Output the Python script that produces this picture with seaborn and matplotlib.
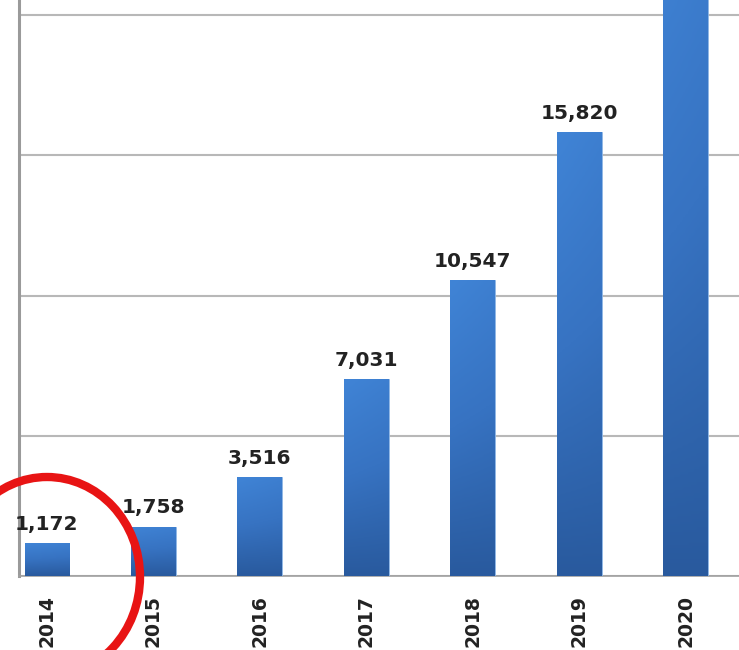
import numpy as np
import seaborn as sns
import matplotlib.pyplot as plt
from matplotlib.patches import Ellipse
from matplotlib.colors import LinearSegmentedColormap


years = ["2014", "2015", "2016", "2017", "2018", "2019", "2020"]
values = [1172, 1758, 3516, 7031, 10547, 15820, 23730]  # 2020 is cut off in the picture, estimated

y_top = 20535

sns.set_style("white")
plt.rcParams['font.family'] = ['DejaVu Sans']

fig = plt.figure(figsize=(7.39, 6.5), dpi=100)
ax = fig.add_axes([19 / 739, 74 / 650, 1 - 19 / 739, 576 / 650])

sns.barplot(x=years, y=values, width=0.42, color="#3a78c8", ax=ax,
            edgecolor="#8fb8e8", linewidth=0.6, zorder=3)

# blue gradient fill, lighter at top, darker at bottom
blues = LinearSegmentedColormap.from_list("bar", ["#295a9e", "#3773c2", "#4084d6"])
grad = np.linspace(0, 1, 256).reshape(-1, 1)
grad = grad * np.linspace(1.0, 0.85, 16).reshape(1, -1)
for p in ax.patches:
    x, y = p.get_x(), p.get_y()
    w, h = p.get_width(), p.get_height()
    im = ax.imshow(grad, extent=[x, x + w, y, y + h], origin="lower",
                   aspect="auto", cmap=blues, vmin=0, vmax=1, zorder=3.5)
    im.set_clip_path(p)

# value labels (the 2020 one lies above the cropped picture)
for i, v in enumerate(values):
    if v > y_top:
        continue
    ax.annotate(f"{v:,}", (i, v), xytext=(0, 9.5), textcoords="offset points",
                ha="center", va="baseline", fontsize=14.5, fontweight="bold",
                color="#222222")

ax.set_xlim(-0.262, 6.47)
ax.set_ylim(0, y_top)
ax.set_yticks([0, 5000, 10000, 15000, 20000])
ax.set_yticklabels([])
ax.tick_params(axis="y", length=0)
ax.yaxis.grid(True, color="#b8b8b8", lw=1.5)
ax.set_axisbelow(True)

ax.set_xticks(range(len(years)))
ax.set_xticklabels(years, rotation=90, fontsize=13.5, fontweight="bold",
                   color="#222222", va="top")
ax.tick_params(axis="x", which="major", length=0, pad=13.5)
ax.set_xticks(np.arange(0.5, len(years), 1.0), minor=True)
ax.tick_params(axis="x", which="minor", length=5, width=1, color="#999999",
               direction="out")
ax.set_xlabel("")
ax.set_ylabel("")

sns.despine(ax=ax, top=True, right=True)
ax.spines["left"].set_color("#9a9a9a")
ax.spines["left"].set_linewidth(2.2)
ax.spines["bottom"].set_color("#a0a0a0")
ax.spines["bottom"].set_linewidth(1.2)

# red circle marking 2014
fig.add_artist(Ellipse((47 / 739, 1 - 577 / 650), 186 / 739, 200 / 650,
                       transform=fig.transFigure, fill=False,
                       edgecolor="#e81414", lw=6, zorder=10))

fig.savefig("out.png", dpi=100)
